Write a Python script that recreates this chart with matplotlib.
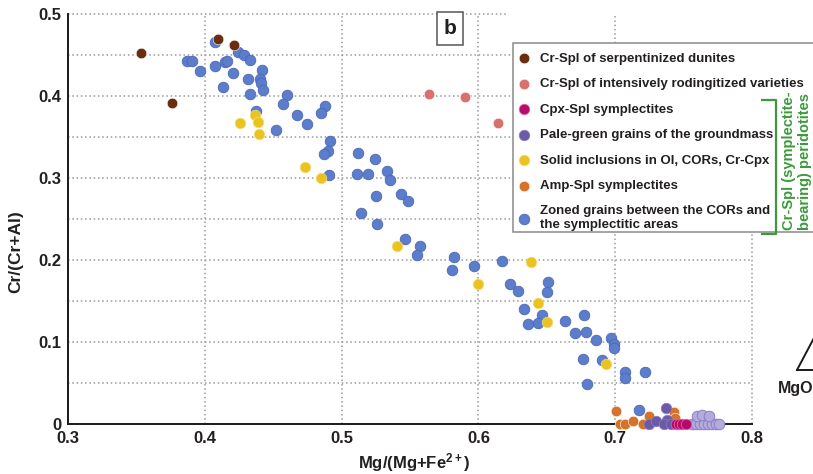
import numpy as np
import matplotlib
matplotlib.use('Agg')
import matplotlib.pyplot as plt
from matplotlib.patches import Rectangle
from matplotlib.lines import Line2D

plt.rcParams['font.family'] = ['Liberation Sans', 'DejaVu Sans']
plt.rcParams['font.weight'] = 'bold'
plt.rcParams['mathtext.fontset'] = 'custom'
plt.rcParams['mathtext.bf'] = 'Liberation Sans:bold'
plt.rcParams['mathtext.rm'] = 'Liberation Sans:bold'
plt.rcParams['mathtext.default'] = 'bf'

# Mg# vs Cr# of the spinel groups
dunite_x = [0.353, 0.376, 0.410, 0.421]
dunite_y = [0.452, 0.391, 0.470, 0.462]

roding_x = [0.564, 0.590, 0.614]
roding_y = [0.402, 0.399, 0.367]

cpx_x = [0.7444, 0.7470, 0.7488, 0.7518]
cpx_y = [0.0, 0.0, 0.0, 0.0]

pale_x = [0.725, 0.730, 0.737, 0.738, 0.736, 0.741]
pale_y = [0.0, 0.004, 0.020, 0.005, 0.0, 0.0]
# lighter, overlapping grains at the high-Mg end
pale2_x = [0.7561, 0.7591, 0.7620, 0.7649, 0.7678, 0.7708, 0.7737, 0.7759, 0.7598, 0.7635, 0.7686]
pale2_y = [0.0, 0.0, 0.0, 0.0, 0.0, 0.0, 0.0, 0.0, 0.010, 0.011, 0.010]

incl_x = [0.4257, 0.4367, 0.4389, 0.4396, 0.4732, 0.4849, 0.5405, 0.5997, 0.6385, 0.6436, 0.6501, 0.6933]
incl_y = [0.367, 0.377, 0.368, 0.354, 0.313, 0.300, 0.217, 0.171, 0.198, 0.148, 0.124, 0.073]

amp_x = [0.7006, 0.7035, 0.707, 0.713, 0.720, 0.725, 0.743, 0.744]
amp_y = [0.016, 0.0, 0.0, 0.004, 0.0, 0.010, 0.015, 0.007]

zoned_x = [0.4075, 0.4243, 0.4287, 0.4330, 0.3870, 0.3906, 0.3965, 0.4075, 0.4148, 0.4162,
           0.4206, 0.4418, 0.4316, 0.4404, 0.4411, 0.4425, 0.4133, 0.4330, 0.4601, 0.4572,
           0.4879, 0.4849, 0.4674, 0.4747, 0.4520, 0.4374, 0.4915, 0.4901, 0.4871, 0.5120,
           0.5244, 0.5332, 0.5354, 0.5113, 0.5193, 0.4908, 0.5251, 0.5434, 0.5485, 0.5142,
           0.5259, 0.5463, 0.5573, 0.5551, 0.5822, 0.5807, 0.5968, 0.6173, 0.6231, 0.6289,
           0.6509, 0.6501, 0.6333, 0.6465, 0.6363, 0.6436, 0.6633, 0.6772, 0.6706, 0.6787,
           0.6860, 0.6969, 0.6991, 0.6991, 0.6765, 0.6904, 0.7072, 0.7072, 0.7218, 0.6794,
           0.7174]
zoned_y = [0.466, 0.454, 0.450, 0.444, 0.443, 0.443, 0.430, 0.437, 0.441, 0.443,
           0.428, 0.432, 0.421, 0.421, 0.416, 0.407, 0.411, 0.402, 0.401, 0.390,
           0.388, 0.379, 0.377, 0.366, 0.359, 0.382, 0.345, 0.333, 0.329, 0.330,
           0.323, 0.309, 0.298, 0.305, 0.305, 0.304, 0.278, 0.280, 0.272, 0.257,
           0.244, 0.226, 0.217, 0.206, 0.204, 0.188, 0.193, 0.199, 0.171, 0.162,
           0.173, 0.161, 0.140, 0.133, 0.122, 0.123, 0.126, 0.133, 0.111, 0.112,
           0.102, 0.105, 0.098, 0.093, 0.079, 0.078, 0.063, 0.056, 0.063, 0.049,
           0.017]

labels = ['Cr-Spl of serpentinized dunites',
          'Cr-Spl of intensively rodingitized varieties',
          'Cpx-Spl symplectites',
          'Pale-green grains of the groundmass',
          'Solid inclusions in Ol, CORs, Cr-Cpx',
          'Amp-Spl symplectites',
          'Zoned grains between the CORs and\nthe symplectitic areas']

c_brown = '#6b2d10'
c_pink = '#d8706e'
c_mag = '#b80a6c'
c_purple = '#6a5aa8'
c_yellow = '#eac321'
c_orange = '#d6732b'
c_blue = '#5b7dcc'
txt = '#231f20'

fig = plt.figure(figsize=(8.13, 4.74), dpi=100)
ax = fig.add_axes([68/813, 50/474, 684/813, 410/474])
ax.set_xlim(0.3, 0.8)
ax.set_ylim(0, 0.5)

# dotted grid, drawn by hand so the top line stops short of the legend
gkw = dict(color='#9a9a9a', lw=1.1, linestyle=(0, (1, 1.8)), zorder=1)
for gx in [0.4, 0.5, 0.6, 0.7, 0.8]:
    ax.vlines(gx, 0, 0.5 if gx < 0.8 else 0.3, clip_on=False, **gkw)
for gy in np.arange(0.05, 0.5, 0.05):
    ax.hlines(gy, 0.3, 0.8, **gkw)
ax.hlines(0.5, 0.3, 0.622, clip_on=False, **gkw)

s = 58
kw = dict(s=s, clip_on=False, zorder=3)
h_zoned = ax.scatter(zoned_x, zoned_y, c=c_blue, edgecolors='#4a68b5', linewidths=0.6, **kw)
ax.scatter(pale2_x, pale2_y, c='#b4aadc', edgecolors='#8d80c4', linewidths=0.7, **kw)
h_amp = ax.scatter(amp_x, amp_y, c=c_orange, edgecolors='white', linewidths=0.4, **kw)
h_pale = ax.scatter(pale_x, pale_y, c=c_purple, edgecolors='#8d80c4', linewidths=0.5, **kw)
h_cpx = ax.scatter(cpx_x, cpx_y, c=c_mag, edgecolors='#e070a8', linewidths=0.5, **kw)
h_incl = ax.scatter(incl_x, incl_y, c=c_yellow, edgecolors='#f4dc7a', linewidths=0.5, **kw)
h_rod = ax.scatter(roding_x, roding_y, c=c_pink, edgecolors='white', linewidths=0.4, **kw)
h_dun = ax.scatter(dunite_x, dunite_y, c=c_brown, edgecolors='white', linewidths=0.4, **kw)

for sp in ['top', 'right']:
    ax.spines[sp].set_visible(False)
for sp in ['left', 'bottom']:
    ax.spines[sp].set_linewidth(1.4)
    ax.spines[sp].set_color('#1a1a1a')
    ax.spines[sp].set_zorder(2)

ax.set_xticks([0.3, 0.4, 0.5, 0.6, 0.7, 0.8])
ax.set_xticklabels(['0.3', '0.4', '0.5', '0.6', '0.7', '0.8'])
ax.set_yticks([0, 0.1, 0.2, 0.3, 0.4, 0.5])
ax.set_yticklabels(['0', '0.1', '0.2', '0.3', '0.4', '0.5'])
ax.tick_params(axis='x', length=0, pad=5, labelsize=12, colors=txt)
ax.tick_params(axis='y', length=0, pad=4.5, labelsize=12, colors=txt)

ax.set_xlabel('Mg/(Mg+Fe$^{2+}$)', fontsize=12, fontweight='bold', color=txt, va='center')
ax.xaxis.set_label_coords(0.507, -0.095)
ax.set_ylabel('Cr/(Cr+Al)', fontsize=12.5, fontweight='bold', color=txt, va='center')
ax.yaxis.set_label_coords(-0.077, 0.42)

# panel letter
ax.text(0.5795, 0.5 - 0.0175, 'b', fontsize=15, fontweight='bold', color=txt,
        ha='center', va='center', zorder=5,
        bbox=dict(boxstyle='square,pad=0.32', fc='white', ec='#555555', lw=1.1))

# legend with its own frame running off the right edge
frame = Rectangle((513/813, (474-232)/474), 0.4, 189/474, transform=fig.transFigure,
                  fc='white', ec='#8a8a8a', lw=1.1, clip_on=False, zorder=4)
ax.add_patch(frame)
leg = ax.legend([h_dun, h_rod, h_cpx, h_pale, h_incl, h_amp, h_zoned], labels,
                loc='upper left', bbox_to_anchor=(513/813, 1 - 46/474),
                bbox_transform=fig.transFigure, frameon=False, fontsize=9.5,
                scatterpoints=1, handlelength=0.7, handletextpad=0.85,
                labelspacing=1.0, borderpad=0.5, borderaxespad=0)
leg.set_zorder(6)
for t in leg.get_texts():
    t.set_fontweight('bold')
    t.set_color(txt)

# bracket grouping the symplectite-bearing peridotite entries
g = '#3c9a3c'
fig.add_artist(Line2D([762/813, 776/813, 776/813, 762/813],
                      [1 - 100/474, 1 - 100/474, 1 - 234/474, 1 - 234/474],
                      color=g, lw=1.6))
fig.text(797/813, 1 - 161/474, 'Cr-Spl (symplectite-\nbearing) peridotites',
         rotation=90, ha='center', va='center', multialignment='center',
         fontsize=10.5, fontweight='bold', color=g, linespacing=1.15)

# edge of the neighbouring ternary panel
fig.add_artist(Line2D([797/813, 813/813], [1 - 370/474, 1 - 370/474], color='#1a1a1a', lw=1.4))
fig.add_artist(Line2D([797/813, 815/813], [1 - 370/474, 1 - 336/474], color='#1a1a1a', lw=1.4))
fig.text(796/813, 1 - 389/474, 'MgO', fontsize=11.5, fontweight='bold', color=txt,
         ha='center', va='center')

fig.savefig('out.png', dpi=100)
